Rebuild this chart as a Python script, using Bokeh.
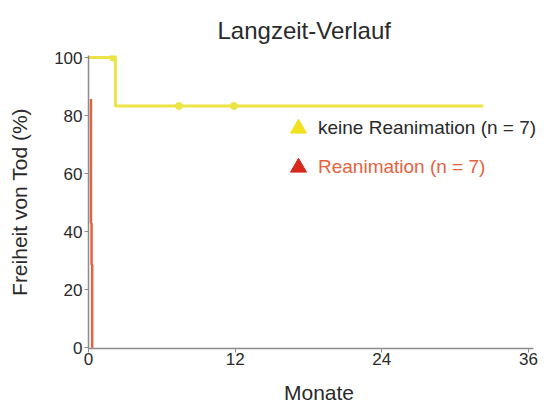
from bokeh.plotting import figure
from bokeh.models import Range1d, FixedTicker, Legend, LegendItem, ColumnDataSource
from bokeh.embed import file_html
from bokeh.resources import INLINE

# Data
keine_time = [0, 2.2, 32.3]
keine_surv = [100, 83.3, 83.3]
keine_censor_time = [2.0, 7.4, 11.9]
keine_censor_surv = [100, 83.3, 83.3]

rea_time = [0.2, 0.2, 0.2, 0.2, 0.25, 0.3, 0.3]
rea_surv = [85.7, 71.4, 57.1, 42.9, 28.6, 14.3, 0]

x_ticks = [0, 12, 24, 36]
y_ticks = [0, 20, 40, 60, 80, 100]

title_text = "Langzeit-Verlauf"
x_label = "Monate"
y_label = "Freiheit von Tod (%)"
legend_labels = ["keine Reanimation (n = 7)", "Reanimation (n = 7)"]

FONT = "Liberation Sans"
YELLOW = "#ece445"
RED_LINE = "#e4623e"
RED_MARK = "#d8281c"
AXIS = "#8c8c8c"
TXT = "#2a2a2a"

p = figure(width=549, height=406, output_backend="svg", toolbar_location=None,
           x_range=Range1d(0, 37.72), y_range=Range1d(-0.3, 100.7),
           min_border_left=88, min_border_right=0, min_border_top=55, min_border_bottom=58)
p.outline_line_color = None
p.grid.visible = False
p.background_fill_color = "white"
p.border_fill_color = "white"

p.title.text = title_text
p.title.align = "left"
p.title.offset = 129
p.title.standoff = 24
p.title.text_font = FONT
p.title.text_font_size = "24px"
p.title.text_font_style = "normal"
p.title.text_color = TXT

for ax in (p.xaxis[0], p.yaxis[0]):
    ax.axis_line_color = AXIS
    ax.axis_line_width = 1.5
    ax.major_tick_line_color = AXIS
    ax.major_tick_out = 4
    ax.major_tick_in = 0
    ax.minor_tick_line_color = None
    ax.major_label_text_font = FONT
    ax.major_label_text_font_size = "17px"
    ax.major_label_text_color = TXT
    ax.major_label_standoff = 2
    ax.axis_label_text_font = FONT
    ax.axis_label_text_font_size = "21px"
    ax.axis_label_text_font_style = "normal"
    ax.axis_label_text_color = TXT

p.xaxis[0].bounds = (0, 36.4)
p.xaxis[0].major_label_standoff = 0
p.xaxis[0].axis_label_standoff = 13
p.yaxis[0].axis_label_standoff = 20
p.xaxis[0].ticker = FixedTicker(ticks=x_ticks)
p.yaxis[0].ticker = FixedTicker(ticks=y_ticks)
p.xaxis[0].axis_label = x_label
p.yaxis[0].axis_label = y_label

# Curves
p.step(x=rea_time, y=rea_surv, mode="after", line_color=RED_LINE, line_width=2.5)
p.step(x=keine_time, y=keine_surv, mode="after", line_color=YELLOW, line_width=3)
p.scatter(x=keine_censor_time, y=keine_censor_surv, marker="circle", size=7,
          fill_color=YELLOW, line_color=YELLOW)

# Legend (two legends for distinct label colours); marker renderers carry no points
nan = float("nan")
r1 = p.scatter(x="x", y="y", source=ColumnDataSource(dict(x=[nan], y=[nan])), marker="triangle",
               size=18, fill_color="#f0e21e", line_color="#f0e21e")
r2 = p.scatter(x="x", y="y", source=ColumnDataSource(dict(x=[nan], y=[nan])), marker="triangle",
               size=18, fill_color=RED_MARK, line_color=RED_MARK)

def make_legend(label, renderer, loc, color):
    lg = Legend(items=[LegendItem(label=label, renderers=[renderer])], location=loc,
                glyph_width=40, glyph_height=40, label_standoff=0,
                padding=0, margin=0, border_line_color=None, background_fill_alpha=0,
                label_text_font=FONT, label_text_font_size="19px", label_text_color=color,
                label_height=40)
    p.add_layout(lg, "center")

make_legend(legend_labels[0], r1, (190, 200), TXT)
make_legend(legend_labels[1], r2, (190, 161), "#e4623e")

open("out.html", "w").write(file_html(p, INLINE))
